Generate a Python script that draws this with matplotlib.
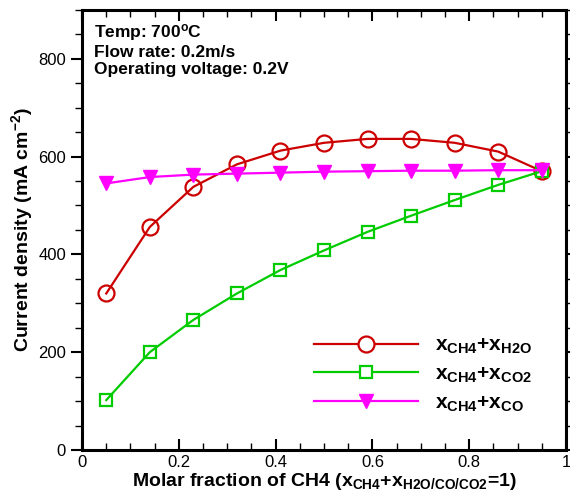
import numpy as np
import matplotlib
matplotlib.use('Agg')
import matplotlib.pyplot as plt
from matplotlib.ticker import MultipleLocator, FuncFormatter

plt.rcParams['font.family'] = ['Liberation Sans', 'DejaVu Sans']
plt.rcParams['mathtext.default'] = 'regular'
plt.rcParams['axes.unicode_minus'] = False

x = [0.05, 0.14, 0.23, 0.32, 0.41, 0.50, 0.59, 0.68, 0.77, 0.86, 0.95]
j_h2o = [320, 456, 538, 584, 612, 628, 636, 636, 628, 610, 570]
j_co2 = [102, 200, 266, 320, 368, 408, 446, 479, 511, 542, 570]
j_co = [545, 558, 563, 565, 567, 569, 570, 571, 571, 572, 572]

fig = plt.figure(figsize=(5.7, 4.98), dpi=100)
ax = fig.add_axes([0.144, 0.0964, 0.849, 0.884])

ax.plot(x, j_h2o, '-o', color='#cc0000', lw=1.6, ms=11.5, mew=1.6, mfc='none',
        label='x$_{CH4}$+x$_{H2O}$')
ax.plot(x, j_co2, '-s', color='#00cc00', lw=1.6, ms=9, mew=1.6, mfc='none',
        label='x$_{CH4}$+x$_{CO2}$')
ax.plot(x, j_co, '-v', color='#ff00ff', lw=1.6, ms=9.5, mew=1.0,
        label='x$_{CH4}$+x$_{CO}$')

ax.set_xlim(0, 1)
ax.set_ylim(0, 900)
ax.xaxis.set_major_locator(MultipleLocator(0.2))
ax.xaxis.set_minor_locator(MultipleLocator(0.05))
ax.yaxis.set_major_locator(MultipleLocator(200))
ax.yaxis.set_minor_locator(MultipleLocator(50))
ax.xaxis.set_major_formatter(FuncFormatter(lambda v, p: '%g' % round(v, 2)))
ax.yaxis.set_major_formatter(FuncFormatter(lambda v, p: '%d' % v))

ax.tick_params(axis='x', which='both', direction='in', top=True, labelsize=12)
ax.tick_params(axis='y', which='both', direction='out', right=True, labelsize=12)
ax.tick_params(which='major', length=8, width=1.5)
ax.tick_params(which='minor', length=5, width=1)
for s in ax.spines.values():
    s.set_linewidth(2.2)

ax.set_xlabel('Molar fraction of CH4 (x$_{CH4}$+x$_{H2O/CO/CO2}$=1)',
              fontsize=14, fontweight='bold', labelpad=1)
ax.set_ylabel('Current density (mA cm$^{-2}$)', fontsize=14, fontweight='bold', labelpad=2)

ax.text(0.025, 0.972, 'Temp: 700$^{o}$C\nFlow rate: 0.2m/s\nOperating voltage: 0.2V',
        transform=ax.transAxes, va='top', ha='left', fontsize=12.5,
        fontweight='bold', linespacing=1.15)

leg = ax.legend(loc='lower right', bbox_to_anchor=(0.968, 0.04), frameon=False,
                handlelength=5.0, handletextpad=0.8, labelspacing=0.4,
                prop={'size': 15, 'weight': 'bold'})
for h in leg.legend_handles[:2]:
    h.set_markerfacecolor('white')

fig.savefig('out.png', dpi=100)
